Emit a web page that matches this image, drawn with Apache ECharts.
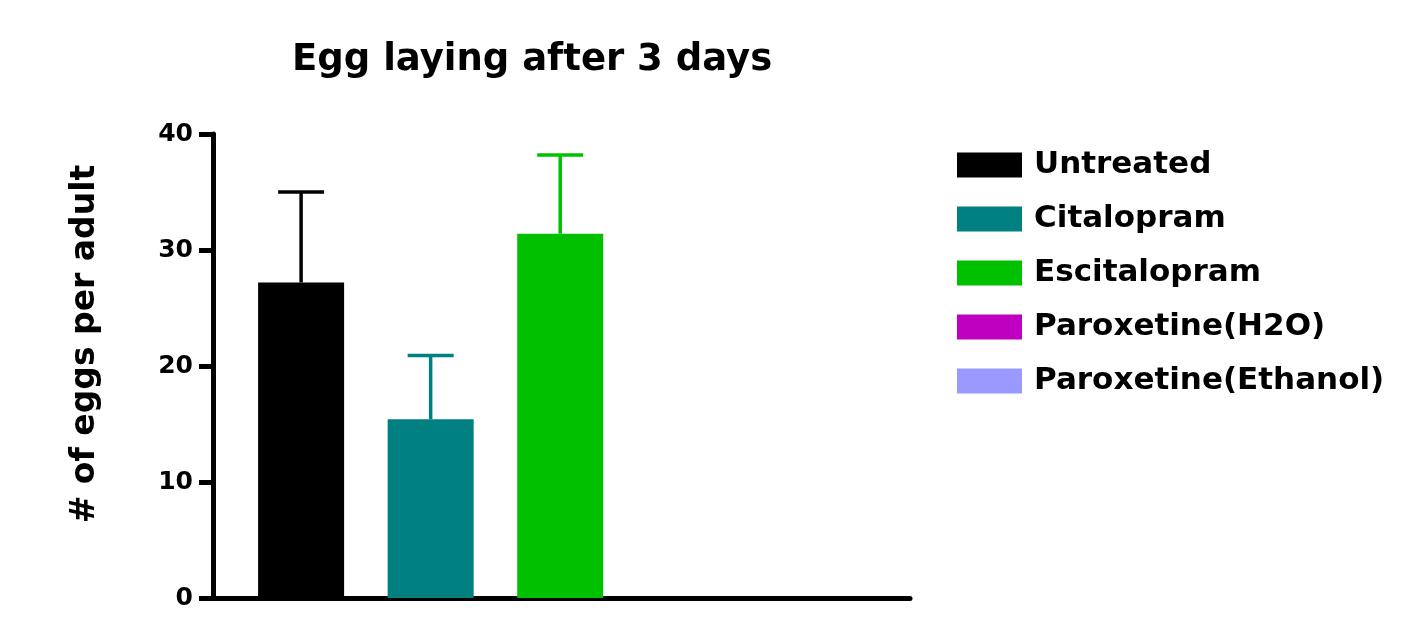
<!DOCTYPE html>
<html>
<head>
<meta charset="utf-8">
<style>
  html, body { margin: 0; padding: 0; background: #fff; }
  #chart { width: 1420px; height: 617px; }
</style>
<script src="https://cdn.jsdelivr.net/npm/echarts@6/dist/echarts.min.js"></script>
</head>
<body>
<div id="chart"></div>
<script>
var groups = ['Untreated', 'Citalopram', 'Escitalopram', 'Paroxetine(H2O)', 'Paroxetine(Ethanol)']
var means = [27.2, 15.4, 31.4, null, null]
var errHigh = [35.0, 20.9, 38.2, null, null]
var colors = ['#000000', '#008080', '#00c000', '#c000c0', '#9999ff']
var yTicks = [0, 10, 20, 30, 40]

var font = 'DejaVu Sans, Arial, sans-serif'
var chart = echarts.init(document.getElementById('chart'))

var series = groups.map(function (name, i) {
  return {
    name: name,
    type: 'bar',
    barWidth: 86,
    barGap: '-100%',
    itemStyle: { color: colors[i] },
    data: means[i] == null ? [] : [[i, means[i]]],
    silent: true
  }
})

// error bars (mean -> mean + SEM), one per group that has data
var errData = []
groups.forEach(function (g, i) {
  if (means[i] != null) errData.push([i, means[i], errHigh[i]])
})

series.push({
  type: 'custom',
  silent: true,
  z: 3,
  data: errData,
  renderItem: function (params, api) {
    var x = api.value(0)
    var lo = api.coord([x, api.value(1)])
    var hi = api.coord([x, api.value(2)])
    var c = colors[x]
    var st = { stroke: c, lineWidth: 3.5 }
    return {
      type: 'group',
      children: [
        { type: 'line', shape: { x1: lo[0], y1: lo[1], x2: hi[0], y2: hi[1] }, style: st },
        { type: 'line', shape: { x1: hi[0] - 23, y1: hi[1], x2: hi[0] + 23, y2: hi[1] }, style: st }
      ]
    }
  }
})

var option = {
  animation: false,
  backgroundColor: '#fff',
  title: {
    text: 'Egg laying after 3 days',
    left: 292,
    top: 42,
    padding: 0,
    textStyle: { fontFamily: font, fontWeight: 'bold', fontSize: 37, color: '#000' }
  },
  legend: {
    orient: 'vertical',
    left: 957,
    top: 148,
    padding: 0,
    icon: 'rect',
    itemWidth: 65,
    itemHeight: 25,
    itemGap: 20,
    data: groups,
    selectedMode: false,
    textStyle: {
      fontFamily: font, fontWeight: 'bold', fontSize: 31, color: '#000',
      lineHeight: 34, padding: [0, 0, 0, 7]
    }
  },
  grid: { left: 213, right: 510, top: 134, bottom: 19 },
  xAxis: {
    type: 'value',
    min: -0.68,
    max: 4.7,
    axisLine: { show: true, lineStyle: { color: '#000', width: 5 } },
    axisTick: { show: false },
    axisLabel: { show: false },
    splitLine: { show: false }
  },
  yAxis: {
    type: 'value',
    min: yTicks[0],
    max: yTicks[yTicks.length - 1],
    interval: 10,
    name: '# of eggs per adult',
    nameLocation: 'middle',
    nameGap: 111,
    nameTextStyle: {
      fontFamily: font, fontWeight: 'bold', fontSize: 33, color: '#000',
      padding: [0, 0, 0, 44]
    },
    axisLine: { show: true, onZero: false, lineStyle: { color: '#000', width: 5 } },
    axisTick: { show: true, length: 14, lineStyle: { color: '#000', width: 5 } },
    axisLabel: { margin: 20, fontFamily: font, fontWeight: 'bold', fontSize: 25, color: '#000' },
    splitLine: { show: false }
  },
  series: series
}

chart.setOption(option)
</script>
</body>
</html>
